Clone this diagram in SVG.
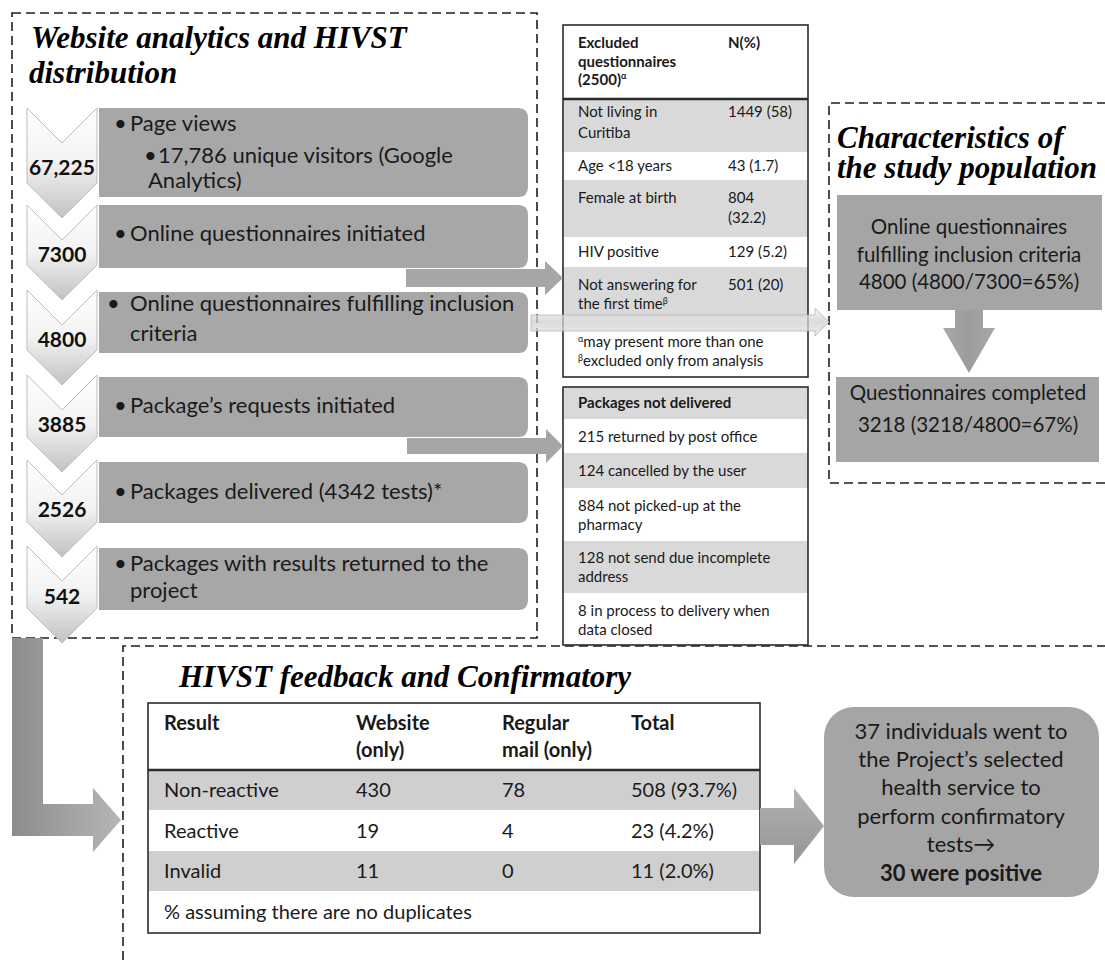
<svg xmlns="http://www.w3.org/2000/svg" width="1105" height="960" viewBox="0 0 1105 960">
<defs>
<linearGradient id="chevG" x1="0" y1="0" x2="0" y2="1"><stop offset="0" stop-color="#ffffff"/><stop offset="0.5" stop-color="#f2f2f2"/><stop offset="1" stop-color="#c2c2c2"/></linearGradient>
<linearGradient id="lArrowG" gradientUnits="userSpaceOnUse" x1="12" y1="0" x2="121" y2="0"><stop offset="0" stop-color="#8c8c8c"/><stop offset="1" stop-color="#b6b6b6"/></linearGradient>
<linearGradient id="hArrowG" x1="0" y1="0" x2="0" y2="1"><stop offset="0" stop-color="#b2b2b2"/><stop offset="1" stop-color="#959595"/></linearGradient>
<linearGradient id="vArrowG" x1="0" y1="0" x2="1" y2="0"><stop offset="0" stop-color="#a9a9a9"/><stop offset="0.5" stop-color="#9c9c9c"/><stop offset="1" stop-color="#a9a9a9"/></linearGradient>
<linearGradient id="thinG" x1="0" y1="0" x2="0" y2="1"><stop offset="0" stop-color="#f2f2f2"/><stop offset="0.5" stop-color="#cfcfcf"/><stop offset="1" stop-color="#e8e8e8"/></linearGradient>
</defs>
<style>
.dash{fill:none;stroke:#1e1e1e;stroke-width:1.6;stroke-dasharray:9 5}
.title{font-family:'Liberation Serif',serif;font-weight:bold;font-style:italic;font-size:31px;fill:#000}
.row{fill:#a7a7a7}
.rt{font-family:Lato,'Liberation Sans',sans-serif;font-size:22px;fill:#1a1a1a}
.num{font-family:Lato,'Liberation Sans',sans-serif;font-size:21px;font-weight:bold;fill:#111;text-anchor:middle}
.chev{fill:url(#chevG);stroke:#bdbdbd;stroke-width:1}
.gr{fill:#d9d9d9}
.tborder{fill:none;stroke:#2b2b2b;stroke-width:1.6}
.tt{font-family:Lato,'Liberation Sans',sans-serif;font-size:15px;fill:#1a1a1a}
.b{font-weight:bold}
.bt{font-family:Lato,'Liberation Sans',sans-serif;font-size:20px;fill:#1a1a1a}
.ct{font-family:Lato,'Liberation Sans',sans-serif;font-size:20.5px;fill:#1a1a1a;text-anchor:middle}
.rb{font-family:Lato,'Liberation Sans',sans-serif;font-size:22px;fill:#1a1a1a;text-anchor:middle}
.box{fill:#a5a5a5}
.arrow{fill:#a6a6a6}
</style>

<g id="frame-website">
<rect class="dash" x="12" y="13" width="525" height="625"/>
<text class="title" x="31" y="48">Website analytics and HIVST</text>
<text class="title" x="29" y="83">distribution</text>
</g>

<g id="frame-characteristics">
<path class="dash" d="M1106,103 H829 V483 H1106"/>
<text class="title" x="837" y="148">Characteristics of</text>
<text class="title" x="837" y="178">the study population</text>
</g>

<g id="frame-feedback">
<path class="dash" d="M1106,646 H123 V962"/>
<text class="title" x="179" y="687">HIVST feedback and Confirmatory</text>
</g>

<g id="chevrons">
<polygon class="chev" points="27,108 62,143 97,108 97,183 62,218 27,183"/>
<polygon class="chev" points="27,205 62,240 97,205 97,265 62,300 27,265"/>
<polygon class="chev" points="27,290 62,325 97,290 97,350 62,385 27,350"/>
<polygon class="chev" points="27,375 62,410 97,375 97,437 62,472 27,437"/>
<polygon class="chev" points="27,460 62,495 97,460 97,522 62,557 27,522"/>
<polygon class="chev" points="27,546 62,581 97,546 97,608 62,643 27,608"/>
</g>

<g id="step-pageviews">
<path class="row" d="M99,108 H518 Q528,108 528,118 V187 Q528,197 518,197 H99 Z"/>
<text class="num" x="62" y="175">67,225</text>
<text class="rt" x="114" y="131">•</text><text class="rt" x="130" y="131">Page views</text>
<text class="rt" x="144" y="163">•</text><text class="rt" x="158" y="163">17,786 unique visitors (Google</text>
<text class="rt" x="148" y="188">Analytics)</text>
</g>

<g id="step-initiated">
<path class="row" d="M99,205 H518 Q528,205 528,215 V258 Q528,268 518,268 H99 Z"/>
<text class="num" x="62" y="262">7300</text>
<text class="rt" x="114" y="241">•</text><text class="rt" x="130" y="241">Online questionnaires initiated</text>
</g>

<g id="step-fulfilling">
<path class="row" d="M99,292 H518 Q528,292 528,302 V343 Q528,353 518,353 H99 Z"/>
<text class="num" x="62" y="347">4800</text>
<text class="rt" x="107" y="311">•</text><text class="rt" x="130" y="311">Online questionnaires fulfilling inclusion</text>
<text class="rt" x="130" y="341">criteria</text>
</g>

<g id="step-requests">
<path class="row" d="M99,377 H518 Q528,377 528,387 V427 Q528,437 518,437 H99 Z"/>
<text class="num" x="62" y="432">3885</text>
<text class="rt" x="114" y="413">•</text><text class="rt" x="130" y="413">Package’s requests initiated</text>
</g>

<g id="step-delivered">
<path class="row" d="M99,462 H518 Q528,462 528,472 V513 Q528,523 518,523 H99 Z"/>
<text class="num" x="62" y="517">2526</text>
<text class="rt" x="114" y="499">•</text><text class="rt" x="130" y="499">Packages delivered (4342 tests)*</text>
</g>

<g id="step-returned">
<path class="row" d="M99,548 H518 Q528,548 528,558 V600 Q528,610 518,610 H99 Z"/>
<text class="num" x="62" y="604">542</text>
<text class="rt" x="114" y="571">•</text><text class="rt" x="130" y="571">Packages with results returned to the</text>
<text class="rt" x="130" y="598">project</text>
</g>

<g id="table-excluded">
<rect x="563" y="25" width="245" height="352" fill="#fff"/>
<rect class="gr" x="563" y="99" width="245" height="53"/>
<rect class="gr" x="563" y="180" width="245" height="57"/>
<rect class="gr" x="563" y="267" width="245" height="51"/>
<text class="tt b" x="578" y="48">Excluded</text>
<text class="tt b" x="578" y="67">questionnaires</text>
<text class="tt b" x="578" y="85">(2500)<tspan font-size="9" dy="-6">α</tspan></text>
<text class="tt b" x="728" y="48">N(%)</text>
<text class="tt" x="578" y="117">Not living in</text>
<text class="tt" x="578" y="138">Curitiba</text>
<text class="tt" x="728" y="117">1449 (58)</text>
<text class="tt" x="578" y="171">Age &lt;18 years</text>
<text class="tt" x="728" y="171">43 (1.7)</text>
<text class="tt" x="578" y="203">Female at birth</text>
<text class="tt" x="728" y="203">804</text>
<text class="tt" x="728" y="223">(32.2)</text>
<text class="tt" x="578" y="257">HIV positive</text>
<text class="tt" x="728" y="257">129  (5.2)</text>
<text class="tt" x="578" y="290">Not answering for</text>
<text class="tt" x="578" y="309">the first time<tspan font-size="9" dy="-5">β</tspan></text>
<text class="tt" x="728" y="290">501 (20)</text>
<text class="tt" x="578" y="347"><tspan font-size="9" dy="-5">α</tspan><tspan dy="5">may present more than one</tspan></text>
<text class="tt" x="578" y="366"><tspan font-size="9" dy="-5">β</tspan><tspan dy="5">excluded only from analysis</tspan></text>
<rect class="tborder" x="563" y="25" width="245" height="352"/>
<line x1="563" y1="99" x2="808" y2="99" stroke="#2b2b2b" stroke-width="2.4"/>
</g>

<g id="table-packages">
<rect x="563" y="387" width="245" height="258" fill="#fff"/>
<rect class="gr" x="563" y="387" width="245" height="32"/>
<rect class="gr" x="563" y="453" width="245" height="35"/>
<rect class="gr" x="563" y="541" width="245" height="52"/>
<text class="tt b" x="578" y="408">Packages not delivered</text>
<text class="tt" x="578" y="442">215 returned by post office</text>
<text class="tt" x="578" y="476">124 cancelled by the user</text>
<text class="tt" x="578" y="511">884 not picked-up at the</text>
<text class="tt" x="578" y="530">pharmacy</text>
<text class="tt" x="578" y="563">128 not send due incomplete</text>
<text class="tt" x="578" y="582">address</text>
<text class="tt" x="578" y="616">8 in process to delivery when</text>
<text class="tt" x="578" y="635">data closed</text>
<rect class="tborder" x="563" y="387" width="245" height="258"/>
</g>

<g id="box-inclusion">
<rect class="box" x="837" y="195" width="265" height="115"/>
<text class="ct" x="969" y="234">Online questionnaires</text>
<text class="ct" x="969" y="262">fulfilling inclusion criteria</text>
<text class="ct" x="969" y="289">4800 (4800/7300=65%)</text>
</g>

<g id="box-completed">
<rect class="box" x="836" y="377" width="263" height="85"/>
<text class="ct" x="968" y="400">Questionnaires completed</text>
<text class="ct" x="968" y="432">3218 (3218/4800=67%)</text>
</g>

<g id="table-feedback">
<rect x="148" y="703" width="612" height="230" fill="#fff"/>
<rect fill="#cfcfcf" x="148" y="770" width="612" height="40"/>
<rect fill="#cfcfcf" x="148" y="851" width="612" height="40"/>
<text class="bt b" x="164" y="730">Result</text>
<text class="bt b" x="356" y="730">Website</text>
<text class="bt b" x="356" y="757">(only)</text>
<text class="bt b" x="502" y="730">Regular</text>
<text class="bt b" x="502" y="757">mail (only)</text>
<text class="bt b" x="631" y="730">Total</text>
<text class="bt" x="164" y="797">Non-reactive</text>
<text class="bt" x="356" y="797">430</text>
<text class="bt" x="502" y="797">78</text>
<text class="bt" x="631" y="797">508 (93.7%)</text>
<text class="bt" x="164" y="838">Reactive</text>
<text class="bt" x="356" y="838">19</text>
<text class="bt" x="502" y="838">4</text>
<text class="bt" x="631" y="838">23 (4.2%)</text>
<text class="bt" x="164" y="878">Invalid</text>
<text class="bt" x="356" y="878">11</text>
<text class="bt" x="502" y="878">0</text>
<text class="bt" x="631" y="878">11 (2.0%)</text>
<text class="bt" x="164" y="919">% assuming there are no duplicates</text>
<rect class="tborder" x="148" y="703" width="612" height="230"/>
<line x1="148" y1="770" x2="760" y2="770" stroke="#2b2b2b" stroke-width="2.4"/>
</g>

<g id="box-confirmatory">
<rect class="box" x="824" y="707" width="275" height="190" rx="30"/>
<text class="rb" x="961" y="739">37 individuals went to</text>
<text class="rb" x="961" y="767">the Project’s selected</text>
<text class="rb" x="961" y="795">health service to</text>
<text class="rb" x="961" y="824">perform confirmatory</text>
<text class="rb" x="961" y="852">tests→</text>
<text class="rb b" x="961" y="881">30 were positive</text>
</g>

<g id="connectors">
<polygon fill="url(#lArrowG)" points="12,638 43,638 43,804 93,804 93,788 121,820 93,852 93,836 12,836"/>
<polygon fill="url(#hArrowG)" points="760,808 794,808 794,788 824,826 794,864 794,845 760,845"/>
<polygon fill="url(#vArrowG)" points="955,310 983,310 983,328 995,328 969,373 943,328 955,328"/>
<polygon class="arrow" points="406,269 545,269 545,261 563,278 545,295 545,287 406,287"/>
<polygon class="arrow" points="407,438 546,438 546,429 563,446 546,463 546,454 407,454"/>
<polygon fill="url(#thinG)" fill-opacity="0.75" stroke="#b4b4b4" stroke-width="0.8" points="531,315 815,315 815,308 829,322 815,336 815,331 531,331"/>
</g>
</svg>
